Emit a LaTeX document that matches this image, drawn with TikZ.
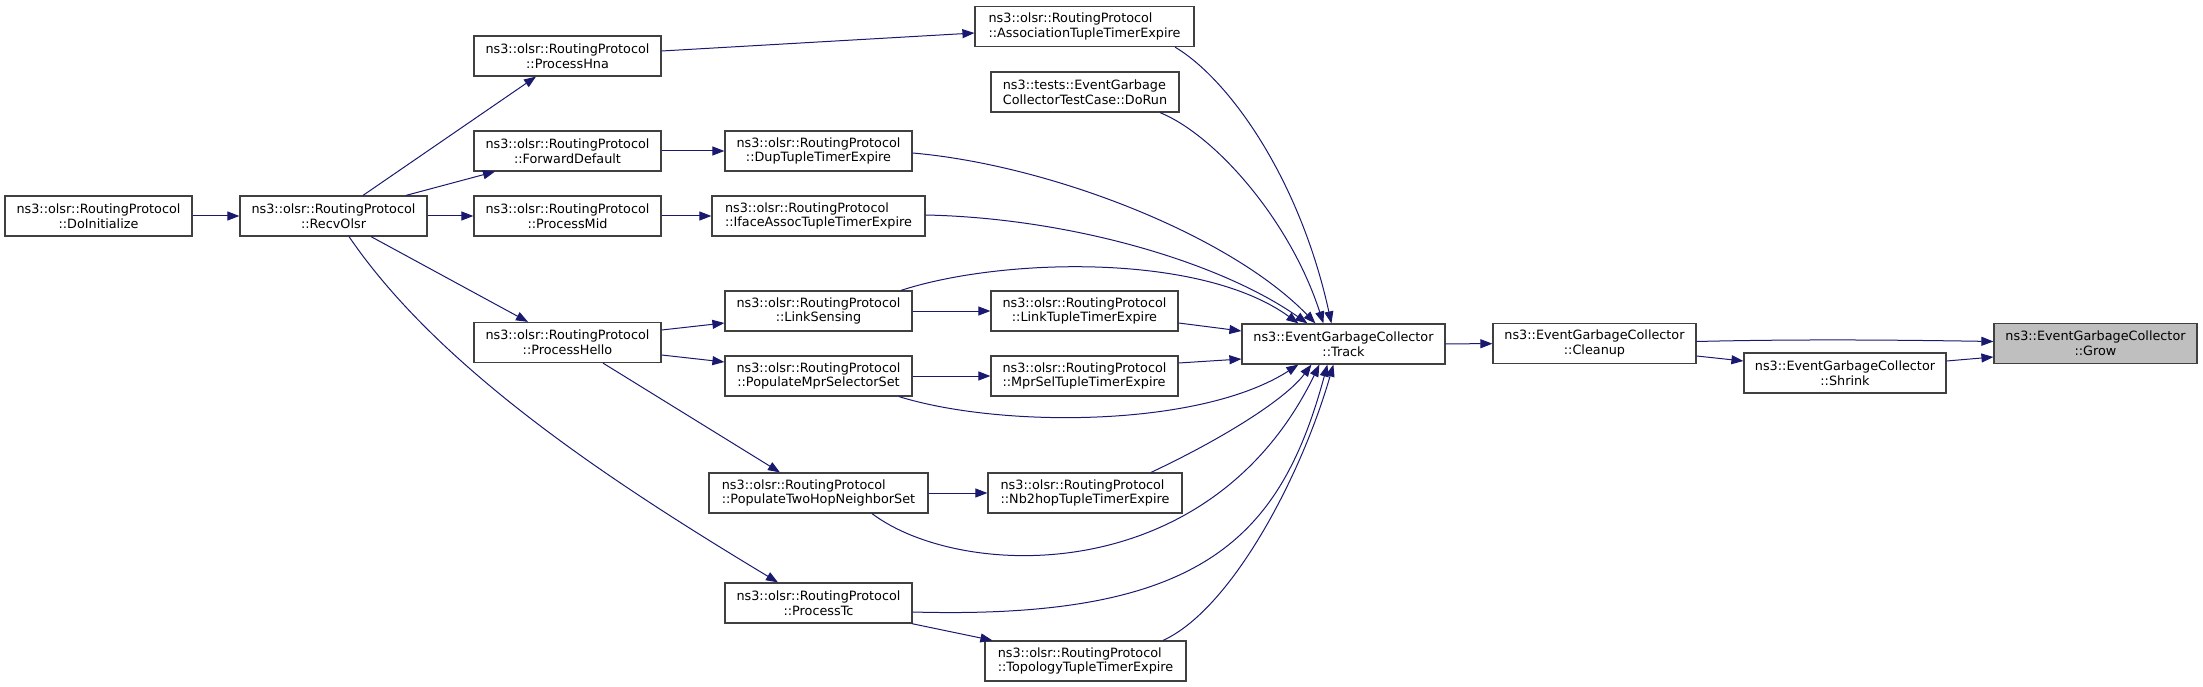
\documentclass[tikz,border=0pt]{standalone}
\usepackage{fontspec}
\setmainfont{DejaVu Sans}
\usetikzlibrary{arrows.meta}
\definecolor{edgec}{HTML}{191970}
\definecolor{bord}{HTML}{404040}
\definecolor{growfill}{HTML}{BFBFBF}
\tikzset{
  fn/.style={draw=bord, line width=1.2pt, fill=white, inner sep=0pt, minimum height=40pt,
    align=center, font=\fontsize{12.8pt}{14.7pt}\selectfont},
  fnl/.style={fn, align=left},
  e/.style={draw=edgec, line width=1pt, -{Triangle[length=12pt,width=9pt]}}
}
\begin{document}
\begin{tikzpicture}[x=1pt,y=-1pt]
\useasboundingbox (0,0) rectangle (2203,687);
% nodes
\node[fn, minimum width=187pt] (doinit) at (98.5,216) {ns3::olsr::RoutingProtocol\\::DoInitialize};
\node[fn, minimum width=187pt] (recv) at (333.5,216) {ns3::olsr::RoutingProtocol\\::RecvOlsr};
\node[fn, minimum width=187pt] (hna) at (567.5,56) {ns3::olsr::RoutingProtocol\\::ProcessHna};
\node[fn, minimum width=187pt] (fwd) at (567.5,151) {ns3::olsr::RoutingProtocol\\::ForwardDefault};
\node[fn, minimum width=187pt] (mid) at (567.5,216) {ns3::olsr::RoutingProtocol\\::ProcessMid};
\node[fn, minimum width=187pt] (hello) at (567.5,342.5) {ns3::olsr::RoutingProtocol\\::ProcessHello};
\node[fnl, minimum width=219pt] (assoc) at (1084.5,26.5) {ns3::olsr::RoutingProtocol\\::AssociationTupleTimerExpire};
\node[fnl, minimum width=188pt] (dorun) at (1085,92) {ns3::tests::EventGarbage\\CollectorTestCase::DoRun};
\node[fn, minimum width=187pt] (dup) at (818.5,151) {ns3::olsr::RoutingProtocol\\::DupTupleTimerExpire};
\node[fnl, minimum width=213pt] (iface) at (818.5,216) {ns3::olsr::RoutingProtocol\\::IfaceAssocTupleTimerExpire};
\node[fn, minimum width=187pt] (linksens) at (818.5,311) {ns3::olsr::RoutingProtocol\\::LinkSensing};
\node[fn, minimum width=187pt] (linktuple) at (1084.5,311) {ns3::olsr::RoutingProtocol\\::LinkTupleTimerExpire};
\node[fn, minimum width=187pt] (popmpr) at (818.5,376) {ns3::olsr::RoutingProtocol\\::PopulateMprSelectorSet};
\node[fnl, minimum width=187pt] (mprsel) at (1084.5,376) {ns3::olsr::RoutingProtocol\\::MprSelTupleTimerExpire};
\node[fnl, minimum width=219pt] (twohop) at (818.5,493) {ns3::olsr::RoutingProtocol\\::PopulateTwoHopNeighborSet};
\node[fnl, minimum width=194pt] (nb2hop) at (1085,493) {ns3::olsr::RoutingProtocol\\::Nb2hopTupleTimerExpire};
\node[fn, minimum width=187pt] (proctc) at (818.5,603) {ns3::olsr::RoutingProtocol\\::ProcessTc};
\node[fnl, minimum width=201pt] (topo) at (1085.5,661) {ns3::olsr::RoutingProtocol\\::TopologyTupleTimerExpire};
\node[fn, minimum width=203pt] (track) at (1343.5,344) {ns3::EventGarbageCollector\\::Track};
\node[fn, minimum width=203pt] (cleanup) at (1594.5,343.5) {ns3::EventGarbageCollector\\::Cleanup};
\node[fn, minimum width=202pt] (shrink) at (1845,373) {ns3::EventGarbageCollector\\::Shrink};
\node[fn, minimum width=203pt, fill=growfill] (grow) at (2095.5,343.5) {ns3::EventGarbageCollector\\::Grow};
% edges
\draw[e] (doinit) -- (recv);
\draw[e] ([xshift=29.5pt]recv.north) -- ([xshift=-31.5pt]hna.south);
\draw[e] ([xshift=72.5pt]recv.north) -- ([xshift=-72.5pt]fwd.south);
\draw[e] (recv) -- (mid);
\draw[e] ([xshift=37.5pt]recv.south) -- ([xshift=-39.5pt]hello.north);
\draw[e] ([xshift=15.5pt]recv.south) .. controls (440,370) and (613,483) .. ([xshift=-40.5pt]proctc.north);
\draw[e] ([yshift=5pt]hna.east) -- ([yshift=-6.5pt]assoc.west);
\draw[e] (fwd) -- (dup);
\draw[e] (mid) -- (iface);
\draw[e] ([yshift=12.5pt]hello.east) -- ([yshift=-12pt]linksens.west);
\draw[e] ([yshift=-12.5pt]hello.east) -- ([yshift=14pt]popmpr.west);
\draw[e] ([xshift=35.5pt]hello.south) -- ([xshift=-38.5pt]twohop.north);
\draw[e] (linksens) -- (linktuple);
\draw[e] (popmpr) -- (mprsel);
\draw[e] (twohop) -- (nb2hop);
\draw[e] ([xshift=-1pt]proctc.south east) -- ([xshift=8pt]topo.north west);
% into Track (top)
\draw[e] ([xshift=82.5pt]linksens.north) .. controls (1000,258) and (1200,252) .. ([xshift=57pt]track.north west);
\draw[e] ([yshift=1pt]iface.east) .. controls (1070,218) and (1220,262) .. ([xshift=66pt]track.north west);
\draw[e] ([yshift=-2pt]dup.east) .. controls (1050,165) and (1230,235) .. ([xshift=74pt]track.north west);
\draw[e] ([xshift=75pt]dorun.south) .. controls (1215,135) and (1290,220) .. ([xshift=82pt]track.north west);
\draw[e] ([xshift=90.5pt]assoc.south) .. controls (1230,80) and (1300,180) .. ([xshift=90pt]track.north west);
% into Track (left)
\draw[e] ([yshift=-12pt]linktuple.east) -- ([yshift=13pt]track.west);
\draw[e] ([yshift=13pt]mprsel.east) -- ([yshift=-15pt]track.west);
% into Track (bottom)
\draw[e] ([xshift=80.5pt]popmpr.south) .. controls (1000,428) and (1200,428) .. ([xshift=57pt]track.south west);
\draw[e] ([xshift=66pt]nb2hop.north) .. controls (1220,440) and (1285,400) .. ([xshift=70pt]track.south west);
\draw[e] ([xshift=53.5pt]twohop.south) .. controls (960,580) and (1210,590) .. ([xshift=78pt]track.south west);
\draw[e] ([yshift=-9pt]proctc.east) .. controls (1200,620) and (1280,540) .. ([xshift=86pt]track.south west);
\draw[e] ([xshift=77.5pt]topo.north) .. controls (1230,610) and (1300,480) .. ([xshift=92pt]track.south west);
% right part
\draw[e] (track) -- (cleanup);
\draw[e] ([yshift=2pt]cleanup.east) .. controls (1800,339) and (1900,340) .. ([yshift=2pt]grow.west);
\draw[e] ([yshift=-12.5pt]cleanup.east) -- ([yshift=12pt]shrink.west);
\draw[e] ([yshift=12pt]shrink.east) -- ([yshift=-13.5pt]grow.west);
\end{tikzpicture}
\end{document}
